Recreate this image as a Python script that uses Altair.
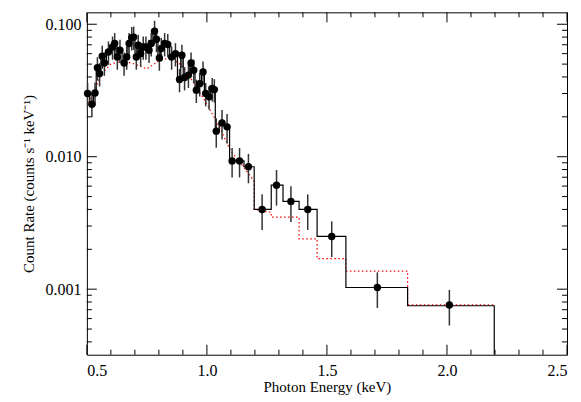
import pandas as pd
import numpy as np
import altair as alt

# observed spectrum (keV, counts/s/keV)
energy = [0.503, 0.521, 0.534, 0.544, 0.553, 0.564, 0.573, 0.590, 0.607, 0.616,
          0.627, 0.638, 0.655, 0.666, 0.676, 0.687, 0.695, 0.706, 0.714, 0.724,
          0.735, 0.746, 0.759, 0.768, 0.782, 0.790, 0.802, 0.810, 0.824, 0.837,
          0.853, 0.869, 0.886, 0.896, 0.907, 0.923, 0.934, 0.945, 0.956, 0.970,
          0.984, 0.995, 1.009, 1.022, 1.031, 1.039, 1.063, 1.084, 1.105, 1.136,
          1.173, 1.23, 1.29, 1.35, 1.42, 1.52, 1.71, 2.01]
rate = [0.030, 0.0249, 0.0303, 0.047, 0.0424, 0.0573, 0.051, 0.0618, 0.0674, 0.0715,
        0.0567, 0.0636, 0.051, 0.0567, 0.0715, 0.0793, 0.080, 0.0567, 0.0694, 0.060,
        0.0674, 0.0674, 0.0636, 0.0715, 0.0886, 0.077, 0.0557, 0.0656, 0.0715, 0.0703,
        0.0567, 0.060, 0.0383, 0.0583, 0.0396, 0.0413, 0.051, 0.045, 0.0318, 0.0356,
        0.0436, 0.030, 0.0283, 0.0327, 0.0321, 0.0156, 0.018, 0.0168, 0.0093, 0.0093,
        0.0084, 0.0040, 0.0061, 0.0046, 0.0040, 0.0025, 0.00103, 0.00076]
rel_err = [0.2] * 45 + [0.25] * 6 + [0.3] * 7

# model histogram at high energy (bin edges and values)
hi_edges = [1.197, 1.268, 1.317, 1.384, 1.459, 1.579, 1.836, 2.197]
hi_model = [0.0040, 0.0061, 0.0046, 0.0040, 0.0025, 0.00103, 0.00075]

# second model (red dotted)
red_x = [0.5, 0.53, 0.56, 0.6, 0.65, 0.7, 0.75, 0.8, 0.85, 0.9, 0.95, 1.0, 1.05,
         1.1, 1.15, 1.197, 1.197, 1.268, 1.268, 1.384, 1.384, 1.459, 1.459, 1.579,
         1.579, 1.836, 1.836, 2.197]
red_y = [0.024, 0.031, 0.042, 0.050, 0.053, 0.050, 0.046, 0.053, 0.056, 0.048,
         0.035, 0.025, 0.017, 0.011, 0.0085, 0.0065, 0.0040, 0.0038, 0.0035, 0.0035,
         0.0024, 0.0024, 0.0017, 0.0017, 0.00137, 0.00137, 0.00076, 0.00076]

W, H = 481, 343
YMIN, YMAX = 0.00032, 0.123

pts = pd.DataFrame({'e': energy, 'r': rate})
pts['lo'] = pts['r'] * (1 - np.array(rel_err))
pts['hi'] = pts['r'] * (1 + np.array(rel_err))

# black step: low-energy bins from midpoints, high-energy bins from edges
lo_e = energy[:51]
lo_edges = [0.5] + [(a + b) / 2 for a, b in zip(lo_e[:-1], lo_e[1:])] + [1.197]
edges = lo_edges[:-1] + hi_edges
vals = rate[:51] + hi_model
step = pd.DataFrame({'e': edges, 'r': vals + [YMIN]})

xs = alt.Scale(domain=[0.5, 2.5], nice=False)
ys = alt.Scale(type='log', domain=[YMIN, YMAX], nice=False)

FONT = 'Liberation Serif'
xax = alt.Axis(values=[0.5, 1.0, 1.5, 2.0, 2.5], format='.1f', ticks=False,
               grid=False, labelPadding=8, domain=False, labelFont=FONT,
               titleFont=FONT, labelFontSize=16, titleFontSize=15,
               titleFontWeight='normal', labelColor='black', titleColor='black',
               titlePadding=1)
yax = alt.Axis(values=[0.001, 0.01, 0.1], format='.3f', ticks=False,
               grid=False, labelPadding=6, domain=False, labelFont=FONT,
               titleFont=FONT, labelFontSize=16, titleFontSize=15,
               titleFontWeight='normal', labelColor='black', titleColor='black',
               titlePadding=8)

base = alt.Chart(pts)
bars = base.mark_rule(color='#333333', strokeWidth=1.5).encode(
    x=alt.X('e:Q', scale=xs, axis=xax, title='Photon Energy (keV)'),
    y=alt.Y('lo:Q', scale=ys, axis=yax, title='Count Rate (counts s⁻¹ keV⁻¹)'),
    y2='hi:Q')
dots = base.mark_circle(color='black', size=55, opacity=1).encode(
    x=alt.X('e:Q', scale=xs), y=alt.Y('r:Q', scale=ys))
hist = alt.Chart(step).mark_line(color='black', strokeWidth=1.2,
                                 interpolate='step-after', clip=True).encode(
    x=alt.X('e:Q', scale=xs), y=alt.Y('r:Q', scale=ys))
red = alt.Chart(pd.DataFrame({'e': red_x, 'r': red_y})).mark_line(
    color='red', strokeDash=[1.5, 2.5], strokeWidth=1.2, clip=True).encode(
    x=alt.X('e:Q', scale=xs), y=alt.Y('r:Q', scale=ys))

# inward ticks on all four sides
xt = [round(0.5 + 0.1 * i, 1) for i in range(21)]
xtk = pd.DataFrame({'e': xt, 'len': [10 if abs(v * 2 - round(v * 2)) < 1e-6 else 5 for v in xt]})
yt = [m * 10.0 ** d for d in (-4, -3, -2, -1) for m in range(1, 10)]
yt = [v for v in yt if YMIN <= v <= YMAX]
ytk = pd.DataFrame({'r': yt, 'len': [10 if abs(np.log10(v) - round(np.log10(v))) < 1e-6 else 5 for v in yt]})

tb = alt.Chart(xtk).transform_calculate(y0=f'{H}', y1=f'{H} - datum.len', t0='0', t1='datum.len')
xb = tb.mark_rule(color='black').encode(x=alt.X('e:Q', scale=xs),
                                          y=alt.Y('y0:Q', scale=None), y2='y1:Q')
xtop = tb.mark_rule(color='black').encode(x=alt.X('e:Q', scale=xs),
                                            y=alt.Y('t0:Q', scale=None), y2='t1:Q')
tl = alt.Chart(ytk).transform_calculate(x0='0', x1='datum.len', r0=f'{W}', r1=f'{W} - datum.len')
yl = tl.mark_rule(color='black').encode(y=alt.Y('r:Q', scale=ys),
                                          x=alt.X('x0:Q', scale=None), x2='x1:Q')
yr = tl.mark_rule(color='black').encode(y=alt.Y('r:Q', scale=ys),
                                          x=alt.X('r0:Q', scale=None), x2='r1:Q')

chart = alt.layer(red, hist, bars, dots, xb, xtop, yl, yr).properties(
    width=W, height=H, padding={'left': 14, 'top': 3, 'right': 5, 'bottom': 0}
).configure_view(stroke='black', strokeWidth=1)

chart.save("out.html", embed_options={"renderer": "svg", "actions": False})
